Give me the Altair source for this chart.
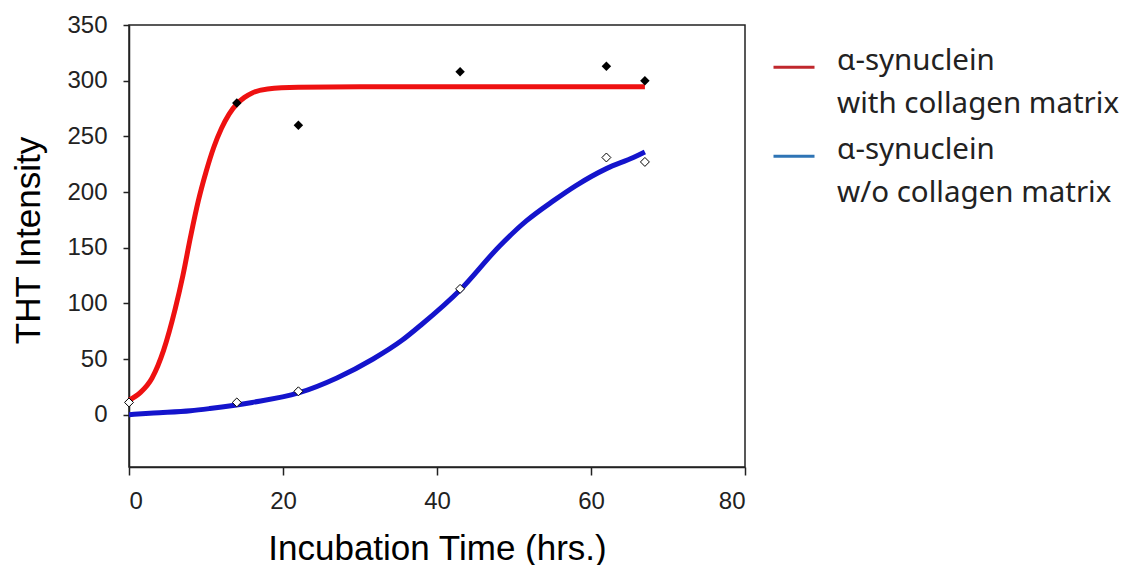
import altair as alt
import pandas as pd

# ---- axis ticks ----
x_ticks = [0, 20, 40, 60, 80]
y_ticks = [0, 50, 100, 150, 200, 250, 300, 350]

# ---- series ----
series_names = ["α-synuclein|with collagen matrix", "α-synuclein|w/o collagen matrix"]
legend_colors = ["#c0282d", "#2e74b5"]
line_colors = ["#ee1111", "#1414cc"]

# fitted curve, with collagen matrix
with_t = [0, 1.5, 3, 4.5, 6, 7, 8, 9, 10, 11, 12, 13, 14, 15, 16, 18, 22, 30, 40, 50, 60, 67]
with_v = [13, 20, 33, 58, 95, 125, 160, 192, 218, 240, 257, 270, 279, 285, 289, 292.5, 294, 294.5, 294.5, 294.5, 294.5, 294.5]

# fitted curve, without collagen matrix
wo_t = [0, 3.2, 8, 10.5, 16, 22, 27, 31.7, 35.5, 38, 43, 48.2, 51.6, 55.1, 58.1, 62, 65.5, 67]
wo_v = [0, 1.5, 3.5, 5.5, 11, 19.5, 33, 50, 67, 81, 112, 152, 174, 192, 206, 221, 231, 236]

# measured points
filled_t = [14, 22, 43, 62, 67]
filled_v = [280, 260, 308, 313, 300]
open_t = [0, 14, 22, 43, 62, 67]
open_v = [11, 11, 21, 113, 231, 227]

df_with = pd.DataFrame({"t": with_t, "v": with_v, "series": series_names[0]})
df_wo = pd.DataFrame({"t": wo_t, "v": wo_v, "series": series_names[1]})
df_curves = pd.concat([df_with, df_wo], ignore_index=True)
df_filled = pd.DataFrame({"t": filled_t, "v": filled_v})
df_open = pd.DataFrame({"t": open_t, "v": open_v})

x_enc = alt.X(
    "t:Q",
    title="Incubation Time (hrs.)",
    scale=alt.Scale(domain=[0, 80], nice=False, zero=False),
    axis=alt.Axis(values=x_ticks, tickSize=8, labelPadding=14,
                  titleX=308, titleY=81, titleBaseline="middle", titleAlign="center"),
)
y_enc = alt.Y(
    "v:Q",
    title="THT Intensity",
    scale=alt.Scale(domain=[-47, 350], nice=False, zero=False),
    axis=alt.Axis(values=y_ticks, tickSize=6, labelPadding=16,
                  titleX=-101, titleY=215, titleAngle=270,
                  titleBaseline="middle", titleAlign="center"),
)

legend_layer = alt.Chart(df_curves).mark_line(opacity=0).encode(
    x=x_enc,
    y=y_enc,
    color=alt.Color(
        "series:N",
        scale=alt.Scale(domain=series_names, range=legend_colors),
        legend=alt.Legend(
            title=None,
            orient="none",
            legendX=643,
            legendY=14,
            padding=0,
            symbolType="M-1,0.3L1,0.3",
            symbolSize=1681,
            symbolStrokeWidth=3,
            symbolOpacity=1,
            labelExpr="split(datum.label, '|')",
            labelFont="Noto Sans",
            labelFontSize=29.5,
            labelColor="#222222",
            labelLimit=450,
            labelOffset=21,
            rowPadding=9,
        ),
    ),
)

red_line = alt.Chart(df_with).mark_line(
    color=line_colors[0], strokeWidth=5, interpolate="monotone"
).encode(x=x_enc, y=y_enc)

blue_line = alt.Chart(df_wo).mark_line(
    color=line_colors[1], strokeWidth=5, interpolate="monotone"
).encode(x=x_enc, y=y_enc)

filled_pts = alt.Chart(df_filled).mark_point(
    shape="diamond", filled=True, color="black", size=90, opacity=1
).encode(x=x_enc, y=y_enc)

open_pts = alt.Chart(df_open).mark_point(
    shape="diamond", filled=True, fill="white", stroke="black", strokeWidth=1,
    size=80, opacity=1
).encode(x=x_enc, y=y_enc)

chart = alt.layer(legend_layer, red_line, blue_line, open_pts, filled_pts).properties(
    width=616,
    height=442,
    autosize=alt.AutoSizeParams(type="none"),
    padding={"left": 121, "top": 17, "right": 378, "bottom": 98},
).configure(
    style={"guide-label": {"lineHeight": 43}}
).configure_view(
    stroke="#222222", strokeWidth=1.5
).configure_axis(
    grid=False,
    domainColor="#222222",
    domainWidth=1.5,
    tickColor="#222222",
    tickWidth=1.5,
    labelFont="Liberation Sans",
    labelFontSize=24,
    labelColor="#222222",
    titleFont="Liberation Sans",
    titleFontSize=35,
    titleFontWeight="normal",
    titleColor="#000000",
)

chart.save("out.html", embed_options={"renderer": "svg", "actions": False})
